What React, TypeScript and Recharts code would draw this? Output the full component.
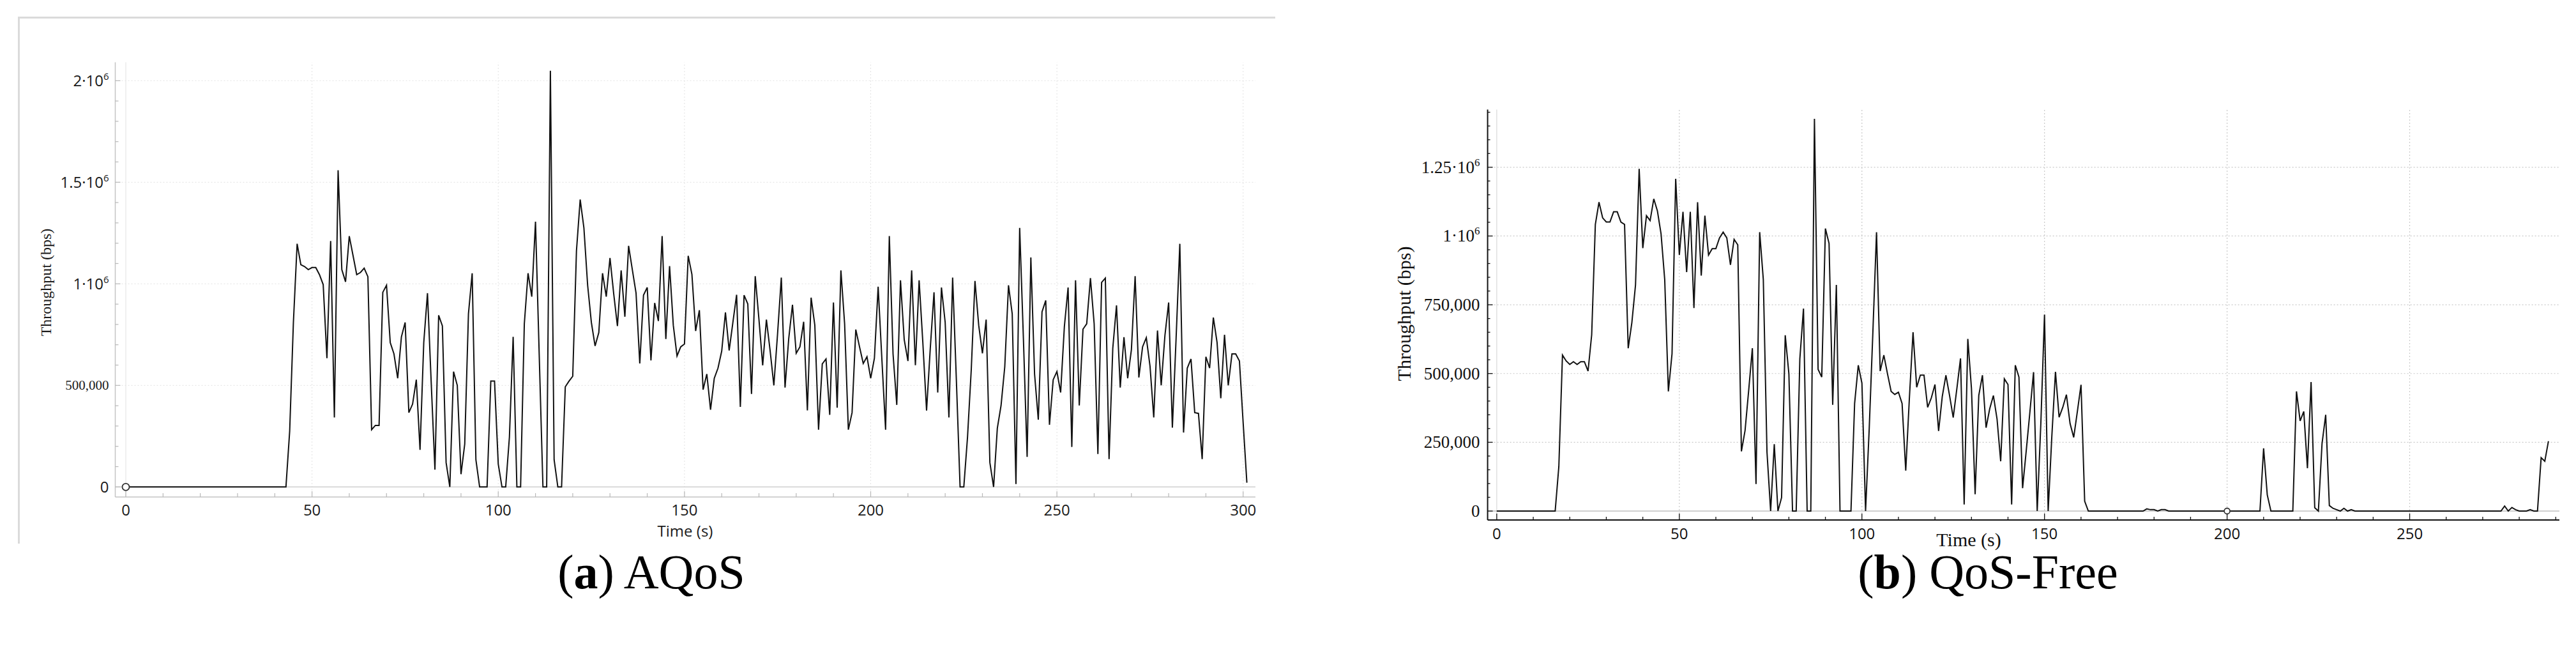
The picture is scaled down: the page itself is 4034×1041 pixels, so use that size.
import React from 'react';
import { LineChart, Line, XAxis, YAxis, ReferenceLine, ReferenceDot, Label } from 'recharts';

// ---------- data ----------
const SAMPLE_INTERVAL_S = 1;

// (a) AQoS throughput, bps, one sample per second from t = 0 s
const aqosBps = [
  0, 0, 0, 0, 0, 0, 0, 0, 0, 0,
  0, 0, 0, 0, 0, 0, 0, 0, 0, 0,
  0, 0, 0, 0, 0, 0, 0, 0, 0, 0,
  0, 0, 0, 0, 0, 0, 0, 0, 0, 0,
  0, 0, 0, 0, 275000, 810000, 1197000, 1094000, 1085000, 1070000,
  1080000, 1080000, 1045000, 996000, 634000, 1211000, 342000, 1559000, 1070000, 1010000,
  1235000, 1140000, 1045000, 1056000, 1077000, 1035000, 282000, 303000, 303000, 958000,
  993000, 711000, 655000, 535000, 739000, 810000, 366000, 408000, 528000, 183000,
  711000, 954000, 514000, 85000, 845000, 793000, 120000, 0, 568000, 500000,
  63000, 211000, 852000, 1052000, 134000, 0, 0, 0, 521000, 521000,
  113000, 0, 0, 246000, 739000, 0, 0, 803000, 1052000, 937000,
  1306000, 650000, 0, 0, 2049000, 134000, 0, 0, 493000, 521000,
  545000, 1162000, 1415000, 1275000, 993000, 810000, 694000, 760000, 1052000, 937000,
  1127000, 951000, 792000, 1066000, 838000, 1187000, 1070000, 954000, 608000, 944000,
  982000, 623000, 906000, 817000, 1235000, 728000, 1087000, 796000, 645000, 690000,
  704000, 1138000, 1046000, 768000, 870000, 479000, 556000, 380000, 535000, 585000,
  669000, 859000, 672000, 810000, 946000, 394000, 944000, 901000, 458000, 1038000,
  824000, 599000, 824000, 670000, 500000, 755000, 1031000, 489000, 732000, 897000,
  658000, 690000, 813000, 377000, 932000, 796000, 282000, 606000, 630000, 355000,
  908000, 390000, 1066000, 803000, 282000, 366000, 775000, 690000, 608000, 641000,
  535000, 634000, 986000, 630000, 282000, 1235000, 655000, 404000, 1017000, 725000,
  620000, 1066000, 599000, 1017000, 711000, 376000, 683000, 958000, 465000, 982000,
  810000, 342000, 1031000, 528000, 0, 0, 246000, 577000, 1014000, 796000,
  658000, 824000, 120000, 0, 289000, 401000, 592000, 993000, 852000, 14000,
  1275000, 732000, 148000, 1130000, 556000, 331000, 862000, 918000, 306000, 528000,
  568000, 465000, 789000, 982000, 197000, 1017000, 401000, 777000, 803000, 1028000,
  803000, 162000, 1007000, 1028000, 137000, 683000, 894000, 489000, 737000, 535000,
  676000, 1038000, 539000, 690000, 735000, 594000, 342000, 770000, 500000, 746000,
  908000, 292000, 732000, 1197000, 268000, 585000, 630000, 366000, 362000, 137000,
  641000, 585000, 834000, 711000, 437000, 749000, 500000, 655000, 655000, 620000,
  317000, 21000,
];

// (b) QoS-Free throughput, bps, one sample per second from t = 0 s
const qosFreeBps = [
  0, 0, 0, 0, 0, 0, 0, 0, 0, 0,
  0, 0, 0, 0, 0, 0, 0, 161000, 567000, 546000,
  533000, 543000, 533000, 543000, 543000, 509000, 641000, 1042000, 1123000, 1066000,
  1051000, 1051000, 1088000, 1088000, 1051000, 1042000, 592000, 685000, 822000, 1244000,
  956000, 1074000, 1056000, 1135000, 1091000, 1007000, 841000, 435000, 572000, 1208000,
  931000, 1088000, 869000, 1088000, 738000, 1123000, 856000, 1074000, 931000, 954000,
  954000, 993000, 1014000, 993000, 895000, 988000, 968000, 217000, 293000, 440000,
  592000, 98000, 1014000, 841000, 215000, 0, 243000, 0, 49000, 639000,
  499000, 0, 0, 553000, 736000, 0, 0, 1426000, 515000, 487000,
  1027000, 973000, 386000, 822000, 0, 0, 0, 0, 391000, 530000,
  465000, 0, 300000, 650000, 1014000, 509000, 567000, 499000, 435000, 424000,
  432000, 391000, 147000, 411000, 650000, 450000, 494000, 494000, 377000, 411000,
  460000, 291000, 416000, 494000, 420000, 340000, 445000, 555000, 24000, 626000,
  445000, 61000, 420000, 494000, 303000, 372000, 420000, 335000, 181000, 481000,
  460000, 24000, 530000, 487000, 83000, 220000, 360000, 505000, 0, 320000,
  714000, 0, 270000, 506000, 341000, 377000, 423000, 318000, 268000, 362000,
  459000, 36000, 0, 0, 0, 0, 0, 0, 0, 0,
  0, 0, 0, 0, 0, 0, 0, 0, 8000, 5000,
  5000, 0, 5000, 5000, 0, 0, 0, 0, 0, 0,
  0, 0, 0, 0, 0, 0, 0, 0, 0, 0,
  0, 0, 0, 0, 0, 0, 0, 0, 0, 0,
  228000, 59000, 0, 0, 0, 0, 0, 0, 0, 435000,
  328000, 362000, 156000, 469000, 12000, 0, 245000, 350000, 20000, 10000,
  5000, 0, 10000, 0, 5000, 0, 0, 0, 0, 0,
  0, 0, 0, 0, 0, 0, 0, 0, 0, 0,
  0, 0, 0, 0, 0, 0, 0, 0, 0, 0,
  0, 0, 0, 0, 0, 0, 0, 0, 0, 0,
  0, 0, 0, 0, 0, 0, 18000, 0, 13000, 5000,
  0, 0, 0, 5000, 0, 0, 194000, 181000, 254000,
];

// ---------- ticks / labels ----------
const xTicksA = [0, 10, 20, 30, 40, 50, 60, 70, 80, 90, 100, 110, 120, 130, 140, 150, 160, 170, 180, 190, 200, 210, 220, 230, 240, 250, 260, 270, 280, 290, 300];
const xLabelTicksA = [0, 50, 100, 150, 200, 250, 300];
const yTicksA = [0, 100000, 200000, 300000, 400000, 500000, 600000, 700000, 800000, 900000, 1000000, 1100000, 1200000, 1300000, 1400000, 1500000, 1600000, 1700000, 1800000, 1900000, 2000000];
const yLabelTicksA = [0, 500000, 1000000, 1500000, 2000000];
const yLabelBaseA = ['0', '500,000', '1·10', '1.5·10', '2·10'];
const yLabelSupA = ['', '', '6', '6', '6'];
const yLabelSerifA = [false, true, false, false, false];

const xTicksB = [0, 10, 20, 30, 40, 50, 60, 70, 80, 90, 100, 110, 120, 130, 140, 150, 160, 170, 180, 190, 200, 210, 220, 230, 240, 250, 260, 270, 280, 290];
const xLabelTicksB = [0, 50, 100, 150, 200, 250];
const yTicksB = [0, 50000, 100000, 150000, 200000, 250000, 300000, 350000, 400000, 450000, 500000, 550000, 600000, 650000, 700000, 750000, 800000, 850000, 900000, 950000, 1000000, 1050000, 1100000, 1150000, 1200000, 1250000, 1300000, 1350000, 1400000, 1450000];
const yLabelTicksB = [0, 250000, 500000, 750000, 1000000, 1250000];
const yLabelBaseB = ['0', '250,000', '500,000', '750,000', '1·10', '1.25·10'];
const yLabelSupB = ['', '', '', '', '6', '6'];

const gridXA = [50, 100, 150, 200, 250, 300];
const gridYA = [500000, 1000000, 1500000, 2000000];
const gridXB = [50, 100, 150, 200, 250];
const gridYB = [250000, 500000, 750000, 1000000, 1250000];

const dataA = aqosBps.map((v, i) => ({ t: i * SAMPLE_INTERVAL_S, v }));
const dataB = qosFreeBps.map((v, i) => ({ t: i * SAMPLE_INTERVAL_S, v }));

const SANS = "'Open Sans', 'Noto Sans', sans-serif";
const SERIF = "'Liberation Serif', 'Times New Roman', serif";

// ---------- ticks ----------
const XTickA = (props: any) => {
  const { x, y, payload } = props;
  const major = xLabelTicksA.includes(payload.value);
  return (
    <g>
      <line x1={x} x2={x} y1={y} y2={y - (major ? 9 : 6)} stroke="#b8b8b8" strokeWidth={1.2} />
      {major && (
        <text x={x} y={y + 29} textAnchor="middle" fontFamily={SANS} fontSize={24} fill="#1a1a1a">
          {payload.value}
        </text>
      )}
    </g>
  );
};

const YTickA = (props: any) => {
  const { x, y, payload } = props;
  const i = yLabelTicksA.indexOf(payload.value);
  const major = i >= 0;
  const serif = major && yLabelSerifA[i];
  return (
    <g>
      <line x1={x} x2={x + (major ? 8 : 5)} y1={y} y2={y} stroke="#b8b8b8" strokeWidth={1.2} />
      {major && (
        <text x={x - 10} y={y + (serif ? 7 : 8.5)} textAnchor="end" fontFamily={serif ? SERIF : SANS} fontSize={serif ? 21 : 24} fill="#1a1a1a">
          {yLabelBaseA[i]}
          {yLabelSupA[i] ? <tspan dy={-10} fontSize={15}>{yLabelSupA[i]}</tspan> : null}
        </text>
      )}
    </g>
  );
};

const XTickB = (props: any) => {
  const { x, y, payload } = props;
  const major = xLabelTicksB.includes(payload.value);
  return (
    <g>
      <line x1={x} x2={x} y1={y} y2={y - (major ? 10 : 5)} stroke="#111" strokeWidth={1.3} />
      {major && (
        <text x={x} y={y + 30} textAnchor="middle" fontFamily={SANS} fontSize={24} fill="#111">
          {payload.value}
        </text>
      )}
    </g>
  );
};

const YTickB = (props: any) => {
  const { x, y, payload } = props;
  const i = yLabelTicksB.indexOf(payload.value);
  const major = i >= 0;
  return (
    <g>
      <line x1={x} x2={x + (major ? 8 : 4)} y1={y} y2={y} stroke="#111" strokeWidth={1.3} />
      {major && (
        <text x={x - 12} y={y + 9} textAnchor="end" fontFamily={SERIF} fontSize={27} fill="#111">
          {yLabelBaseB[i]}
          {yLabelSupB[i] ? <tspan dy={-11} fontSize={17}>{yLabelSupB[i]}</tspan> : null}
        </text>
      )}
    </g>
  );
};

// ---------- charts ----------
const ChartA = () => (
  <LineChart width={2000} height={1041} data={dataA} margin={{ top: 97.6, right: 34, bottom: 0, left: 0 }}>
    <XAxis
      type="number"
      dataKey="t"
      domain={[-2.83, 303.3]}
      allowDataOverflow
      ticks={xTicksA}
      interval={0}
      height={263}
      tickSize={0}
      tickMargin={0}
      tickLine={false}
      axisLine={{ stroke: '#c4c4c4', strokeWidth: 1.5 }}
      tick={(p: any) => <XTickA {...p} />}
    >
      <Label
        content={() => (
          <text x={1073} y={840} textAnchor="middle" fontFamily={SANS} fontSize={24} fill="#1a1a1a">
            Time (s)
          </text>
        )}
      />
    </XAxis>
    <YAxis
      type="number"
      domain={[-49400, 2090300]}
      allowDataOverflow
      ticks={yTicksA}
      interval={0}
      width={180.5}
      tickSize={0}
      tickMargin={0}
      tickLine={false}
      axisLine={{ stroke: '#c4c4c4', strokeWidth: 1.5 }}
      tick={(p: any) => <YTickA {...p} />}
    >
      <Label
        content={() => (
          <text x={80} y={442} transform="rotate(-90 80 442)" textAnchor="middle" fontFamily={SERIF} fontSize={24} fill="#1a1a1a">
            Throughput (bps)
          </text>
        )}
      />
    </YAxis>
    {gridXA.map((g) => (
      <ReferenceLine key={'gx' + g} x={g} stroke="#e2e2e2" strokeWidth={1} strokeDasharray="2 3" />
    ))}
    {gridYA.map((g) => (
      <ReferenceLine key={'gy' + g} y={g} stroke="#e2e2e2" strokeWidth={1} strokeDasharray="2 3" />
    ))}
    <ReferenceLine x={0} stroke="#e6e6e6" strokeWidth={1.2} />
    <ReferenceLine y={0} stroke="#cfcfcf" strokeWidth={1.5} />
    <Line type="linear" dataKey="v" stroke="#111" strokeWidth={2} dot={false} isAnimationActive={false} />
    <ReferenceDot x={0} y={0} r={5.5} fill="#fff" stroke="#333" strokeWidth={1.8} />
  </LineChart>
);

const ChartB = () => (
  <LineChart width={2034} height={1041} data={dataB} margin={{ top: 171.4, right: 26, bottom: 0, left: 0 }}>
    <XAxis
      type="number"
      dataKey="t"
      domain={[-2.5, 291]}
      allowDataOverflow
      ticks={xTicksB}
      interval={0}
      height={227}
      tickSize={0}
      tickMargin={0}
      tickLine={false}
      axisLine={{ stroke: '#111', strokeWidth: 2 }}
      tick={(p: any) => <XTickB {...p} />}
    >
      <Label
        content={() => (
          <text x={1083} y={855} textAnchor="middle" fontFamily={SERIF} fontSize={30} fill="#111">
            Time (s)
          </text>
        )}
      />
    </XAxis>
    <YAxis
      type="number"
      domain={[-32500, 1460000]}
      allowDataOverflow
      ticks={yTicksB}
      interval={0}
      width={329.6}
      tickSize={0}
      tickMargin={0}
      tickLine={false}
      axisLine={{ stroke: '#111', strokeWidth: 2 }}
      tick={(p: any) => <YTickB {...p} />}
    >
      <Label
        content={() => (
          <text x={209} y={491} transform="rotate(-90 209 491)" textAnchor="middle" fontFamily={SERIF} fontSize={30} fill="#111">
            Throughput (bps)
          </text>
        )}
      />
    </YAxis>
    {gridXB.map((g) => (
      <ReferenceLine key={'gx' + g} x={g} stroke="#c8c8c8" strokeWidth={1.2} strokeDasharray="2 3" />
    ))}
    {gridYB.map((g) => (
      <ReferenceLine key={'gy' + g} y={g} stroke="#c8c8c8" strokeWidth={1.2} strokeDasharray="2 3" />
    ))}
    <ReferenceLine x={0} stroke="#d8d8d8" strokeWidth={1.2} />
    <ReferenceLine y={0} stroke="#c0c0c0" strokeWidth={1.5} />
    <Line type="linear" dataKey="v" stroke="#111" strokeWidth={2} dot={false} isAnimationActive={false} />
    <ReferenceDot x={200} y={0} r={4.5} fill="#fff" stroke="#333" strokeWidth={1.8} />
  </LineChart>
);

export default function App() {
  return (
    <div style={{ position: 'absolute', left: 0, top: 0, width: 4034, height: 1041, background: '#fff', overflow: 'hidden' }}>
      <div
        style={{
          position: 'absolute',
          left: 28,
          top: 26,
          width: 1966,
          height: 822,
          borderTop: '3px solid #dadada',
          borderLeft: '3px solid #dadada',
        }}
      />
      <div style={{ position: 'absolute', left: 0, top: 0 }}>
        <ChartA />
      </div>
      <div style={{ position: 'absolute', left: 2000, top: 0 }}>
        <ChartB />
      </div>
      <svg width={4034} height={1041} style={{ position: 'absolute', left: 0, top: 0, pointerEvents: 'none' }}>
        <text x={1020} y={921} textAnchor="middle" fontFamily={SERIF} fontSize={76} fill="#000">
          (<tspan fontWeight="bold">a</tspan>) AQoS
        </text>
        <text x={3113} y={921} textAnchor="middle" fontFamily={SERIF} fontSize={76} fill="#000">
          (<tspan fontWeight="bold">b</tspan>) QoS-Free
        </text>
      </svg>
    </div>
  );
}
